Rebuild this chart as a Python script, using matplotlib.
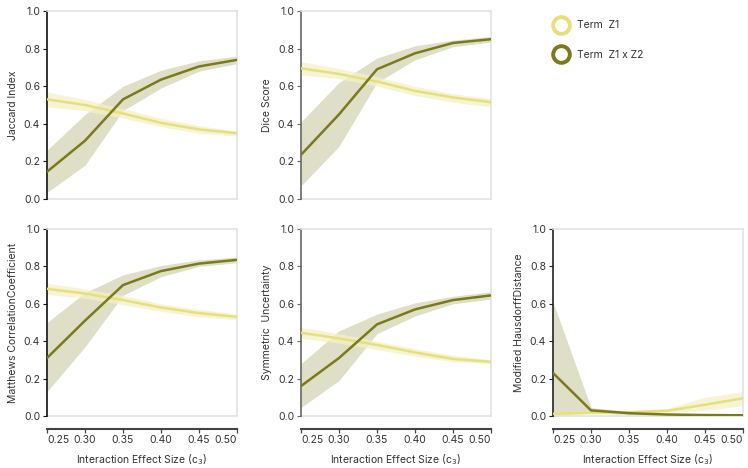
import matplotlib
matplotlib.use("Agg")
import matplotlib.pyplot as plt
from matplotlib.lines import Line2D

plt.rcParams['font.family'] = ['Inter', 'DejaVu Sans']

x = [0.25, 0.30, 0.35, 0.40, 0.45, 0.50]
xticks = [0.25, 0.30, 0.35, 0.40, 0.45, 0.50]
xtick_labels = ["0.25", "0.30", "0.35", "0.40", "0.45", "0.50"]
yticks = [0.0, 0.2, 0.4, 0.6, 0.8, 1.0]

metrics = ["Jaccard Index", "Dice Score", "Matthews CorrelationCoefficient",
           "Symmetric  Uncertainty", "Modified HausdorffDistance"]

# Term Z1 (mean, lower, upper)
z1_jac = [0.53, 0.50, 0.455, 0.405, 0.37, 0.35]
z1_jac_lo = [0.49, 0.47, 0.43, 0.385, 0.35, 0.335]
z1_jac_hi = [0.57, 0.53, 0.48, 0.43, 0.39, 0.36]
z1_dice = [0.695, 0.665, 0.625, 0.575, 0.54, 0.515]
z1_dice_lo = [0.66, 0.64, 0.60, 0.55, 0.515, 0.49]
z1_dice_hi = [0.73, 0.695, 0.65, 0.60, 0.56, 0.535]
z1_mcc = [0.68, 0.655, 0.62, 0.58, 0.55, 0.53]
z1_mcc_lo = [0.65, 0.63, 0.595, 0.56, 0.53, 0.515]
z1_mcc_hi = [0.71, 0.68, 0.645, 0.60, 0.57, 0.545]
z1_su = [0.445, 0.415, 0.38, 0.34, 0.305, 0.29]
z1_su_lo = [0.415, 0.39, 0.355, 0.32, 0.29, 0.28]
z1_su_hi = [0.475, 0.44, 0.40, 0.36, 0.325, 0.30]
z1_mhd = [0.012, 0.018, 0.02, 0.028, 0.06, 0.095]
z1_mhd_lo = [0.004, 0.01, 0.01, 0.018, 0.03, 0.055]
z1_mhd_hi = [0.02, 0.03, 0.03, 0.04, 0.10, 0.13]

# Term Z1 x Z2 (mean, lower, upper)
z12_jac = [0.145, 0.31, 0.53, 0.635, 0.705, 0.74]
z12_jac_lo = [0.035, 0.18, 0.47, 0.59, 0.68, 0.72]
z12_jac_hi = [0.26, 0.45, 0.60, 0.685, 0.735, 0.76]
z12_dice = [0.235, 0.45, 0.69, 0.775, 0.83, 0.85]
z12_dice_lo = [0.07, 0.28, 0.62, 0.74, 0.81, 0.835]
z12_dice_hi = [0.41, 0.62, 0.75, 0.815, 0.845, 0.865]
z12_mcc = [0.31, 0.51, 0.70, 0.775, 0.815, 0.835]
z12_mcc_lo = [0.13, 0.37, 0.645, 0.745, 0.80, 0.82]
z12_mcc_hi = [0.50, 0.66, 0.755, 0.805, 0.835, 0.85]
z12_su = [0.16, 0.31, 0.49, 0.57, 0.62, 0.645]
z12_su_lo = [0.045, 0.19, 0.44, 0.535, 0.60, 0.625]
z12_su_hi = [0.28, 0.455, 0.545, 0.605, 0.64, 0.665]
z12_mhd = [0.23, 0.03, 0.015, 0.008, 0.005, 0.004]
z12_mhd_lo = [0.0, 0.015, 0.008, 0.004, 0.002, 0.002]
z12_mhd_hi = [0.61, 0.045, 0.025, 0.012, 0.008, 0.006]

z1_series = [(z1_jac, z1_jac_lo, z1_jac_hi), (z1_dice, z1_dice_lo, z1_dice_hi),
             (z1_mcc, z1_mcc_lo, z1_mcc_hi), (z1_su, z1_su_lo, z1_su_hi),
             (z1_mhd, z1_mhd_lo, z1_mhd_hi)]
z12_series = [(z12_jac, z12_jac_lo, z12_jac_hi), (z12_dice, z12_dice_lo, z12_dice_hi),
              (z12_mcc, z12_mcc_lo, z12_mcc_hi), (z12_su, z12_su_lo, z12_su_hi),
              (z12_mhd, z12_mhd_lo, z12_mhd_hi)]

c_light = "#e6e07a"
c_dark = "#7a7a1c"
fill_light = "#f4f1c8"
fill_dark = "#dcdcc2"
txt = "#333333"

W, H = 748, 468
fig = plt.figure(figsize=(W / 100, H / 100), dpi=100)

cols_px = [47, 301, 553]
ax_w = 190
rows_px = [(11, 199), (229, 416)]
positions = [(0, 0), (0, 1), (1, 0), (1, 1), (1, 2)]
spine_colors = ["#111111", "#666666", "#222222"]

for i, (r, c) in enumerate(positions):
    top, bot = rows_px[r]
    ax_h = bot - top
    ax = fig.add_axes([cols_px[c] / W, 1 - bot / H, ax_w / W, ax_h / H])
    m, lo, hi = z12_series[i]
    ax.fill_between(x, lo, hi, color=fill_dark, lw=0, zorder=1, alpha=0.9)
    m1, lo1, hi1 = z1_series[i]
    ax.fill_between(x, lo1, hi1, color=fill_light, lw=0, zorder=2, alpha=0.75)
    ax.plot(x, m1, color=c_light, lw=1.8, zorder=3)
    ax.plot(x, m, color=c_dark, lw=1.8, zorder=4)
    ax.set_xlim(0.25, 0.50)
    ax.set_ylim(0, 1)
    ax.set_yticks(yticks)
    ax.set_yticklabels([f"{v:.1f}" for v in yticks], fontsize=7.5, color=txt)
    ax.tick_params(axis='y', length=3, width=0.8, color=spine_colors[c], pad=2)
    ax.set_ylabel(metrics[i], fontsize=7.5, color=txt, labelpad=4)
    for s in ["top", "right"]:
        ax.spines[s].set_color("#e3e3e3")
        ax.spines[s].set_linewidth(1.2)
    ax.spines["left"].set_color(spine_colors[c])
    ax.spines["left"].set_linewidth(1.2)
    ax.axhline(0, color="#e3e3e3", lw=1.2, zorder=0.5, clip_on=False)
    if r == 0:
        ax.spines["bottom"].set_visible(False)
        ax.set_xticks([])
    else:
        ax.spines["bottom"].set_position(("outward", 9))
        ax.spines["bottom"].set_color("#444444")
        ax.spines["bottom"].set_linewidth(1.5)
        ax.spines["bottom"].set_zorder(10)
        ax.set_xticks(xticks)
        ax.set_xticklabels(xtick_labels, fontsize=7.5, color=txt)
        labs = ax.get_xticklabels()
        labs[0].set_horizontalalignment('left')
        labs[-1].set_horizontalalignment('right')
        ax.tick_params(axis='x', length=3, width=0.9, color="#444444", pad=2)
        ax.set_xlabel("Interaction Effect Size (c$_3$)", fontsize=7.5, color=txt)
        ax.xaxis.set_label_coords(0.5, -(452 - bot) / ax_h)

# legend
handles = [Line2D([], [], marker='o', ls='none', markersize=12, markerfacecolor='white',
                  markeredgecolor=c_light, markeredgewidth=2.8),
           Line2D([], [], marker='o', ls='none', markersize=12, markerfacecolor='white',
                  markeredgecolor=c_dark, markeredgewidth=2.8)]
fig.legend(handles, ["Term  Z1", "Term  Z1 x Z2"], loc='upper left',
           bbox_to_anchor=(546 / W, 1 - 16 / H), frameon=False, fontsize=7.5,
           labelcolor=txt, handletextpad=0.6, labelspacing=1.9, borderaxespad=0)

fig.savefig("out.png", dpi=100)
